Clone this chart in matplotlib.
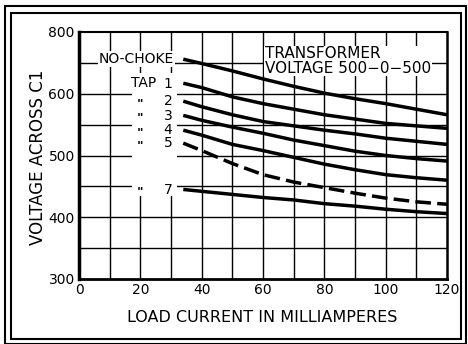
import matplotlib
matplotlib.use("Agg")
import matplotlib.pyplot as plt
from matplotlib.patches import Rectangle

# Output voltage vs. load current for a choke-input supply
current_ma = [34, 40, 50, 60, 70, 80, 90, 100, 110, 120]
no_choke = [656, 649, 637, 624, 612, 601, 592, 584, 575, 566]
tap_1 = [617, 610, 595, 584, 575, 566, 559, 552, 548, 544]
tap_2 = [588, 579, 566, 555, 548, 541, 535, 528, 523, 518]
tap_3 = [565, 557, 546, 536, 525, 516, 507, 500, 495, 491]
tap_4 = [541, 533, 518, 508, 497, 486, 477, 469, 464, 460]
tap_5 = [520, 508, 487, 469, 457, 448, 439, 431, 425, 421]
tap_7 = [445, 442, 437, 432, 428, 422, 418, 413, 409, 406]

tap_names = ["1", "2", "3", "4", "5", "7"]
tap_series = [tap_1, tap_2, tap_3, tap_4, tap_5, tap_7]

x_ticks = [0, 20, 40, 60, 80, 100, 120]
x_tick_labels = ["0", "20", "40", "60", "80", "100", "120"]
y_ticks = [300, 400, 500, 600, 700]
y_tick_labels = ["300", "400", "500", "600", "800"]

W, H = 468, 344
fig = plt.figure(figsize=(W / 100, H / 100), dpi=100)
fig.patch.set_facecolor("white")
plt.rcParams["font.family"] = ["DejaVu Sans"]

# double border around the whole figure
def frame(x0, y0, x1, y1, lw):
    fig.add_artist(Rectangle((x0 / W, 1 - y1 / H), (x1 - x0) / W, (y1 - y0) / H,
                             transform=fig.transFigure, fill=False,
                             edgecolor="black", linewidth=lw))

frame(5, 6, 466, 343.5, 1.5)
frame(11, 13, 460.5, 339, 1.5)

ax = fig.add_axes([79 / W, 1 - 279 / H, (447 - 79) / W, (279 - 32) / H])
ax.set_xlim(0, 120)
ax.set_ylim(300, 700)
ax.set_axisbelow(True)

# grid: every 10 mA and every 50 V
for gx in range(10, 120, 10):
    ax.axvline(gx, color="black", lw=1.0, zorder=0.5)
for gy in range(350, 700, 50):
    ax.axhline(gy, color="black", lw=1.0, zorder=0.5)

# clear panel behind the tap labels
ax.add_patch(Rectangle((17.3, 434), 14.7, 200, facecolor="white",
                       edgecolor="none", zorder=1))

ax.plot(current_ma, no_choke, color="black", lw=2.5, zorder=2,
        solid_capstyle="butt")
for name, vals in zip(tap_names, tap_series):
    ls = (0, (4.5, 1.8)) if name == "5" else "-"
    ax.plot(current_ma, vals, color="black", lw=2.5, ls=ls, zorder=2,
            solid_capstyle="butt", dash_capstyle="butt")

fs = 10
ax.text(18.8, no_choke[0] + 3, "NO-CHOKE", fontsize=fs, ha="center",
        va="center_baseline", zorder=3,
        bbox=dict(facecolor="white", edgecolor="none", pad=0.5))
ax.text(21.0, tap_1[0] + 3, "TAP", fontsize=fs, ha="center",
        va="center_baseline", zorder=3)
for name, vals in zip(tap_names, tap_series):
    ax.text(29.0, vals[0] + 2, name, fontsize=fs, ha="center",
            va="center_baseline", zorder=3)
    if name != "1":
        ax.text(20.0, vals[0] - 11, "\"", fontsize=9, fontweight="bold",
                ha="center", va="baseline", zorder=3)

ax.text(60.7, 653, "TRANSFORMER\nVOLTAGE 500\u22120\u2212500", fontsize=11,
        ha="left", va="center", linespacing=0.95, zorder=3,
        bbox=dict(facecolor="white", edgecolor="none", pad=0.5))

ax.set_xticks(x_ticks)
ax.set_xticklabels(x_tick_labels)
ax.set_yticks(y_ticks)
ax.set_yticklabels(y_tick_labels)
ax.tick_params(length=0, labelsize=10, pad=3)

ax.spines["left"].set_linewidth(2.5)
ax.spines["bottom"].set_linewidth(2.0)
ax.spines["right"].set_linewidth(1.8)
ax.spines["top"].set_linewidth(1.5)

fig.text(262 / W, 1 - 318 / H, "LOAD CURRENT IN MILLIAMPERES", fontsize=11.5,
         ha="center", va="center")
fig.text(38 / W, 1 - 157 / H, "VOLTAGE ACROSS C1", fontsize=12,
         ha="center", va="center", rotation=90)

fig.savefig("out.png", dpi=100, facecolor="white")
